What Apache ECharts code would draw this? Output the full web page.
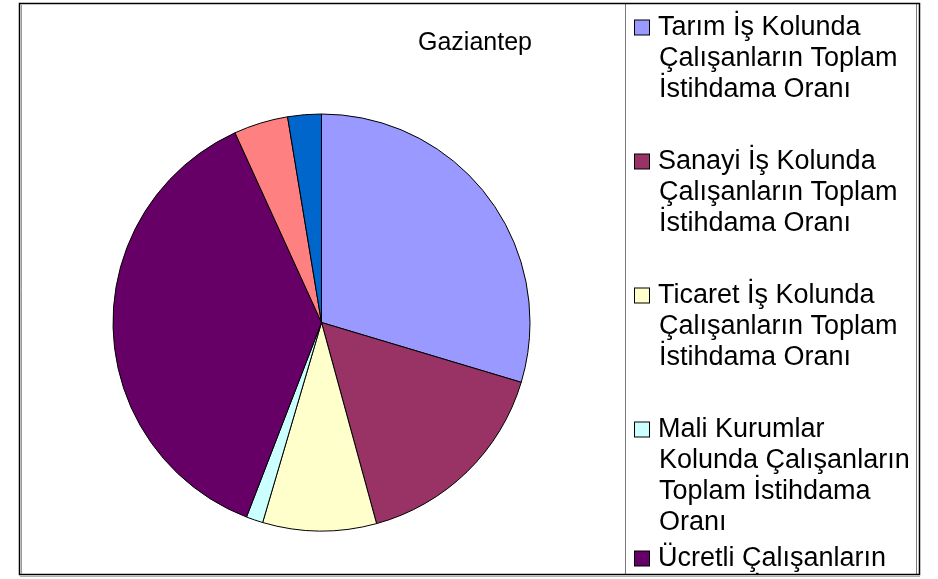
<!DOCTYPE html>
<html>
<head>
<meta charset="utf-8">
<script src="https://cdn.jsdelivr.net/npm/echarts@6/dist/echarts.min.js"></script>
<style>
  html, body { margin: 0; padding: 0; background: #fff; overflow: hidden; }
  #chart { width: 938px; height: 579px; }
</style>
</head>
<body>
<div id="chart"></div>
<script>
// slice names (full), values (%) and colours, in drawing order from 12 o'clock
const categories = [
  "Tarım İş Kolunda Çalışanların Toplam İstihdama Oranı",
  "Sanayi İş Kolunda Çalışanların Toplam İstihdama Oranı",
  "Ticaret İş Kolunda Çalışanların Toplam İstihdama Oranı",
  "Mali Kurumlar Kolunda Çalışanların Toplam İstihdama Oranı",
  "Ücretli Çalışanların Toplam İstihdama Oranı",
  "İşveren Olarak Çalışanların Toplam İstihdama Oranı",
  "Kendi Hesabına Çalışanların Toplam İstihdama Oranı"
];
const values = [29.6, 16.1, 8.8, 1.3, 37.3, 4.2, 2.6];
const colors = ["#9999ff", "#993366", "#ffffcc", "#ccffff", "#660066", "#ff8080", "#0066cc"];

// how the legend wraps each name
const legendLines = [
  ["Tarım İş Kolunda", "Çalışanların Toplam", "İstihdama Oranı"],
  ["Sanayi İş Kolunda", "Çalışanların Toplam", "İstihdama Oranı"],
  ["Ticaret İş Kolunda", "Çalışanların Toplam", "İstihdama Oranı"],
  ["Mali Kurumlar", "Kolunda Çalışanların", "Toplam İstihdama", "Oranı"],
  ["Ücretli Çalışanların", "Toplam İstihdama Oranı"],
  ["İşveren Olarak", "Çalışanların Toplam", "İstihdama Oranı"],
  ["Kendi Hesabına", "Çalışanların Toplam", "İstihdama Oranı"]
];

const FONT = "'Liberation Sans', Arial, sans-serif";
const LH = 31;

const chart = echarts.init(document.getElementById("chart"));

// rich styles: one coloured box per item, plus spacers
const rich = {
  g: { width: 9, lineHeight: LH },
  ind: { width: 24, lineHeight: LH },
  pad: { lineHeight: 36, fontSize: 10 }
};
colors.forEach((c, i) => {
  rich["b" + i] = {
    width: 14, height: 14, lineHeight: LH,
    backgroundColor: c, borderColor: "#000", borderWidth: 1
  };
});

chart.setOption({
  animation: false,
  backgroundColor: "#fff",
  title: {
    text: "Gaziantep",
    left: 470,
    top: 26,
    textAlign: "center",
    textStyle: { fontFamily: FONT, fontSize: 25, fontWeight: "normal", color: "#000" }
  },
  legend: {
    orient: "vertical",
    left: 630,
    top: 12,
    height: 2000,
    padding: 0,
    itemGap: 5,
    icon: "none",
    itemWidth: 0,
    itemHeight: 0,
    selectedMode: false,
    data: categories,
    formatter: function (name) {
      const i = categories.indexOf(name);
      const lines = legendLines[i];
      let s = "{b" + i + "|}{g|}" + lines[0];
      for (let k = 1; k < lines.length; k++) {
        s += "\n{ind|}" + lines[k];
      }
      if (lines.length === 3) s += "\n{pad| }";
      return s;
    },
    textStyle: { fontFamily: FONT, fontSize: 27, color: "#000", lineHeight: LH, rich: rich }
  },
  series: [{
    type: "pie",
    center: [321.5, 322.5],
    radius: 208.5,
    startAngle: 90,
    clockwise: true,
    silent: true,
    label: { show: false },
    labelLine: { show: false },
    itemStyle: { borderColor: "#000", borderWidth: 1 },
    data: categories.map((n, i) => ({ name: n, value: values[i], itemStyle: { color: colors[i] } }))
  }],
  graphic: [
    // hide legend overflow below the frame
    { type: "rect", z: 100, shape: { x: 0, y: 575, width: 938, height: 10 }, style: { fill: "#fff" } },
    // legend box
    { type: "rect", z: 101, shape: { x: 625.5, y: 3.5, width: 291, height: 571 },
      style: { fill: "none", stroke: "#7a7a7a", lineWidth: 1 } },
    // outer frame
    { type: "rect", z: 102, shape: { x: 19.5, y: 3.5, width: 900, height: 571 },
      style: { fill: "none", stroke: "#000", lineWidth: 1.5 } },
    { type: "line", z: 102, shape: { x1: 21.5, y1: 5, x2: 21.5, y2: 574 },
      style: { stroke: "#9a9a9a", lineWidth: 1 } },
    { type: "line", z: 102, shape: { x1: 20, y1: 576.5, x2: 920, y2: 576.5 },
      style: { stroke: "#b0b0b0", lineWidth: 1 } }
  ]
});
</script>
</body>
</html>
